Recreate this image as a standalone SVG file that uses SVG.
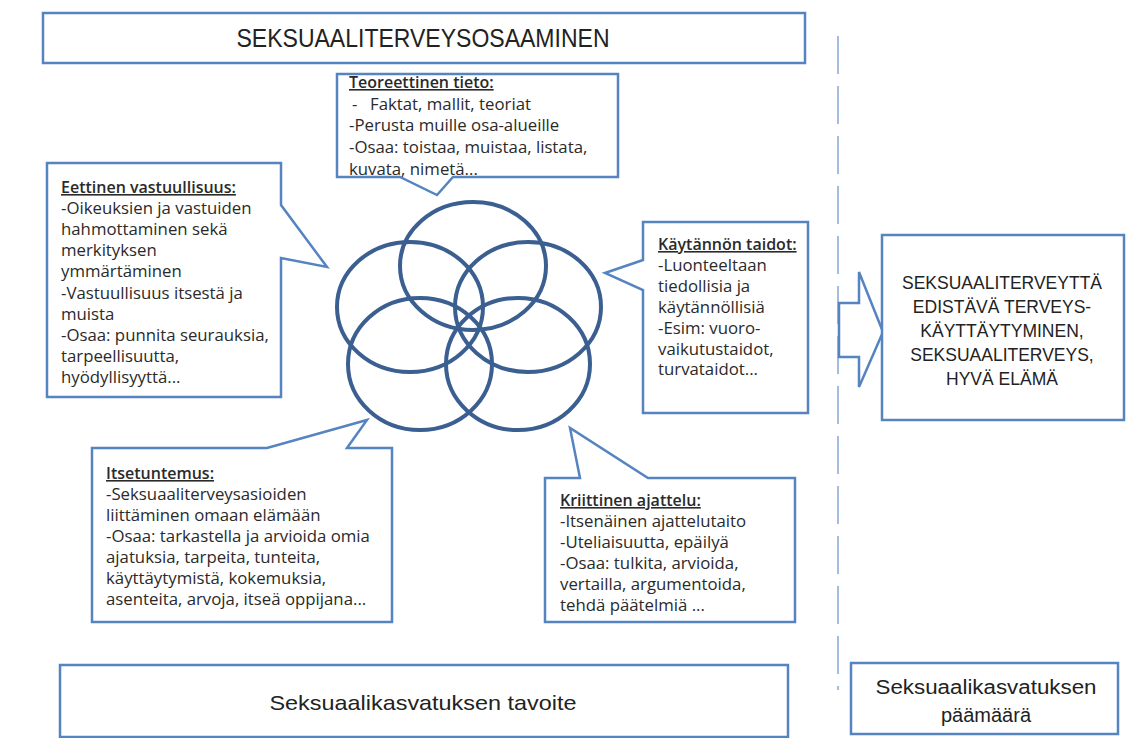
<svg xmlns="http://www.w3.org/2000/svg" width="1142" height="738" viewBox="0 0 1142 738">
<style>
.box{fill:#fff;stroke:#5584c0;stroke-width:2.5}
.ring{fill:none;stroke:#3a5f90;stroke-width:4}
.t{font-family:"Open Sans","Liberation Sans",Arial,sans-serif;font-size:16.8px;fill:#2a2a2a}
.h{font-weight:600;font-size:16px;text-decoration:underline}
.cap{font-family:"Liberation Sans",Arial,sans-serif;font-size:17.5px;fill:#222;text-anchor:middle}
.big{font-family:"Liberation Sans",Arial,sans-serif;fill:#222;text-anchor:middle}
</style>
<rect width="1142" height="738" fill="#fff"/>
<g id="divider">
<line x1="838" y1="36" x2="838" y2="690" stroke="#9db5dc" stroke-width="1.8" stroke-dasharray="38,12"/>
</g>
<g id="title">
<rect class="box" x="43" y="13" width="762" height="50" stroke-width="3"/>
<text class="big" x="423" y="47" font-size="26" textLength="373" lengthAdjust="spacingAndGlyphs">SEKSUAALITERVEYSOSAAMINEN</text>
</g>
<g id="teoreettinen">
<path class="box" d="M337,74 H618 V177 H453 L437,195 L400,177 H337 Z"/>
<text class="t" x="349" y="88"><tspan class="h">Teoreettinen tieto:</tspan><tspan x="352" dy="21.7">-</tspan><tspan x="370">Faktat, mallit, teoriat</tspan><tspan x="349" dy="21.7">-Perusta muille osa-alueille</tspan><tspan x="349" dy="21.7">-Osaa: toistaa, muistaa, listata,</tspan><tspan x="349" dy="21.7">kuvata, nimetä...</tspan></text>
</g>
<g id="eettinen">
<path class="box" d="M47,163 H281 V205 L327,267 L281,258 V397 H47 Z"/>
<text class="t" x="61" y="193"><tspan class="h">Eettinen vastuullisuus:</tspan><tspan x="61" dy="21.1">-Oikeuksien ja vastuiden</tspan><tspan x="61" dy="21.1">hahmottaminen sekä</tspan><tspan x="61" dy="21.1">merkityksen</tspan><tspan x="61" dy="21.1">ymmärtäminen</tspan><tspan x="61" dy="21.1">-Vastuullisuus itsestä ja</tspan><tspan x="61" dy="21.1">muista</tspan><tspan x="61" dy="21.1">-Osaa: punnita seurauksia,</tspan><tspan x="61" dy="21.1">tarpeellisuutta,</tspan><tspan x="61" dy="21.1">hyödyllisyyttä...</tspan></text>
</g>
<g id="kaytannon">
<path class="box" d="M643,222 H808 V413 H643 V290 L605,273 L643,260 Z"/>
<text class="t" x="658" y="250"><tspan class="h">Käytännön taidot:</tspan><tspan x="658" dy="20.9">-Luonteeltaan</tspan><tspan x="658" dy="20.9">tiedollisia ja</tspan><tspan x="658" dy="20.9">käytännöllisiä</tspan><tspan x="658" dy="20.9">-Esim: vuoro-</tspan><tspan x="658" dy="20.9">vaikutustaidot,</tspan><tspan x="658" dy="20.9">turvataidot...</tspan></text>
</g>
<g id="itsetuntemus">
<path class="box" d="M92,448 H267 L367,420 L347,448 H392 V622 H92 Z"/>
<text class="t" x="106" y="479"><tspan class="h">Itsetuntemus:</tspan><tspan x="106" dy="21">-Seksuaaliterveysasioiden</tspan><tspan x="106" dy="21">liittäminen omaan elämään</tspan><tspan x="106" dy="21">-Osaa: tarkastella ja arvioida omia</tspan><tspan x="106" dy="21">ajatuksia, tarpeita, tunteita,</tspan><tspan x="106" dy="21">käyttäytymistä, kokemuksia,</tspan><tspan x="106" dy="21">asenteita, arvoja, itseä oppijana...</tspan></text>
</g>
<g id="kriittinen">
<path class="box" d="M545,478 H580 L570,428 L648,478 H795 V622 H545 Z"/>
<text class="t" x="560" y="506"><tspan class="h">Kriittinen ajattelu:</tspan><tspan x="560" dy="21">-Itsenäinen ajattelutaito</tspan><tspan x="560" dy="21">-Uteliaisuutta, epäilyä</tspan><tspan x="560" dy="21">-Osaa: tulkita, arvioida,</tspan><tspan x="560" dy="21">vertailla, argumentoida,</tspan><tspan x="560" dy="21">tehdä päätelmiä ...</tspan></text>
</g>
<g id="rings">
<ellipse class="ring" cx="473" cy="266" rx="73" ry="64"/>
<ellipse class="ring" cx="410" cy="307" rx="73" ry="65"/>
<ellipse class="ring" cx="528" cy="307" rx="73" ry="65"/>
<ellipse class="ring" cx="420" cy="364" rx="72" ry="66"/>
<ellipse class="ring" cx="518" cy="364" rx="72" ry="66"/>
</g>
<g id="connectors">
<path d="M839,303 H859 V272 L883,332 L859,387 V357 H839 Z" fill="#fff" stroke="#5584c0" stroke-width="2.5" stroke-linejoin="miter"/>
</g>
<g id="goal">
<rect class="box" x="882" y="235" width="242" height="185"/>
<text class="cap" x="1002" y="289">SEKSUAALITERVEYTTÄ</text>
<text class="cap" x="1002" y="313">EDISTÄVÄ TERVEYS-</text>
<text class="cap" x="1002" y="337">KÄYTTÄYTYMINEN,</text>
<text class="cap" x="1002" y="361">SEKSUAALITERVEYS,</text>
<text class="cap" x="1002" y="385">HYVÄ ELÄMÄ</text>
</g>
<g id="tavoite">
<rect class="box" x="60" y="665" width="728" height="72"/>
<text class="big" x="423" y="710" font-size="21" textLength="307" lengthAdjust="spacingAndGlyphs">Seksuaalikasvatuksen  tavoite</text>
</g>
<g id="paamaara">
<rect class="box" x="851" y="663" width="267" height="71"/>
<text class="big" x="986" y="694" font-size="20" textLength="221" lengthAdjust="spacingAndGlyphs">Seksuaalikasvatuksen</text>
<text class="big" x="986" y="722" font-size="20">päämäärä</text>
</g>
</svg>
